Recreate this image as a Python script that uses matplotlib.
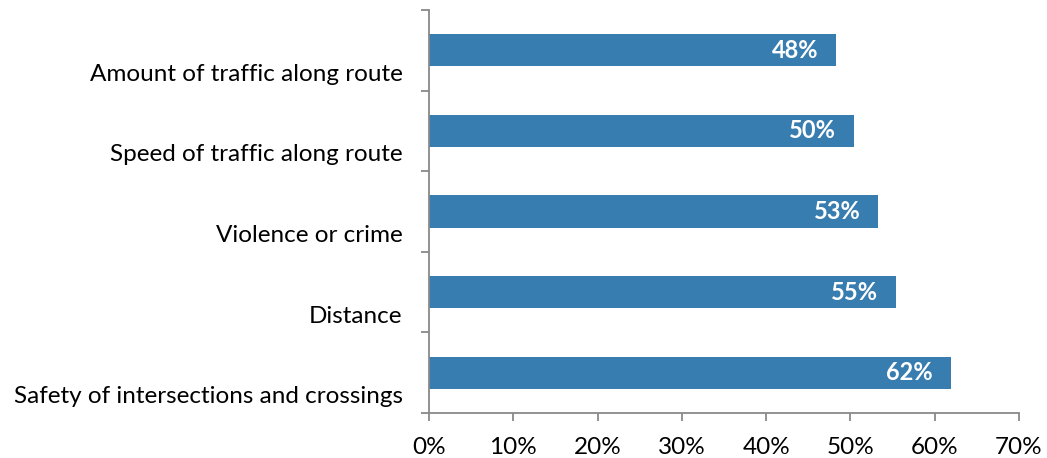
import numpy as np
import matplotlib.pyplot as plt
import matplotlib.transforms as mtransforms
plt.rcParams['font.family'] = 'Lato'
plt.rcParams['font.size'] = 17.5

categories = ['Amount of traffic along route', 'Speed of traffic along route',
              'Violence or crime', 'Distance',
              'Safety of intersections and crossings']
values = [48.3, 50.4, 53.3, 55.4, 61.9]
xticks = [0, 10, 20, 30, 40, 50, 60, 70]

bar_color = '#387db0'
axis_color = '#898989'

fig = plt.figure(figsize=(10.47, 4.58), dpi=100)
ax = fig.add_axes([0.4097, 0.0983, 0.9733 - 0.4097, 0.9782 - 0.0983])

y = np.arange(len(categories))
ax.barh(y, values, height=0.4, color=bar_color)
ax.set_ylim(len(categories) - 0.5, -0.5)
ax.set_xlim(0, 70)

# value labels inside the bar ends
for yi, v in zip(y, values):
    ax.annotate('%d%%' % round(v), (v, yi), xytext=(-13, 0),
                textcoords='offset points', ha='right', va='center',
                color='white', fontweight='bold', fontsize=17)

# category labels sit a little below the bar centre; tick marks at band edges
ax.set_yticks(y)
ax.set_yticklabels(categories)
ax.tick_params(axis='y', which='major', length=0, pad=19)
offset = mtransforms.ScaledTranslation(0, -22 / 100, fig.dpi_scale_trans)
for lbl in ax.get_yticklabels():
    lbl.set_transform(lbl.get_transform() + offset)
ax.set_yticks(np.arange(-0.5, len(categories)), minor=True)
ax.tick_params(axis='y', which='minor', length=6, width=1.3, color=axis_color)

ax.set_xticks(xticks)
ax.set_xticklabels(['%d%%' % t for t in xticks])
ax.tick_params(axis='x', length=6, width=1.3, color=axis_color, pad=11)

for side in ['top', 'right']:
    ax.spines[side].set_visible(False)
for side in ['left', 'bottom']:
    ax.spines[side].set_color(axis_color)
    ax.spines[side].set_linewidth(1.3)

plt.savefig('out.png', dpi=100)
